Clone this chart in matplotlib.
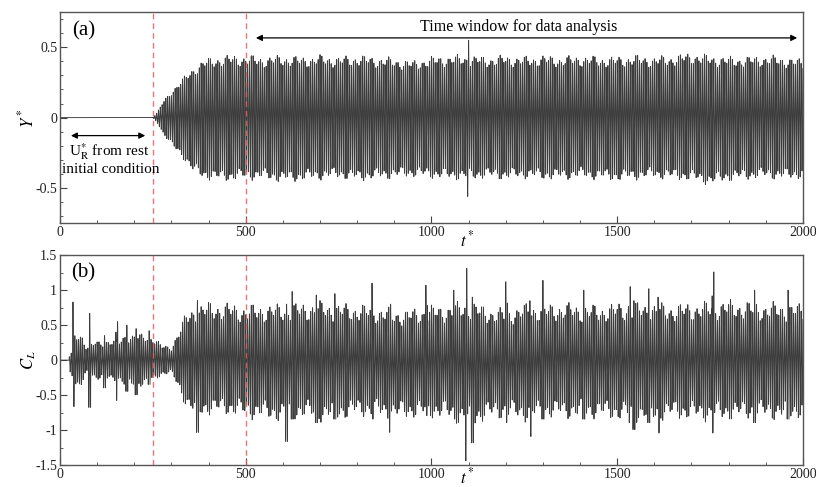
import numpy as np
import matplotlib
matplotlib.use('Agg')
import matplotlib.pyplot as plt
from matplotlib.ticker import MultipleLocator

plt.rcParams['font.family'] = ['Liberation Serif', 'DejaVu Serif']
plt.rcParams['mathtext.fontset'] = 'stix'

# --- data ---
# Y* envelope (upper / lower peak values) at these times
y_t = [0, 250, 262, 278, 305, 332, 359, 386, 422, 450,
       500, 550, 600, 650, 700, 750, 800, 850, 900, 950,
       1000, 1050, 1100, 1150, 1200, 1250, 1300, 1350, 1400, 1450,
       1500, 1550, 1600, 1650, 1700, 1750, 1800, 1850, 1900, 1950, 2000]
y_up = [0, 0, 0.04, 0.12, 0.21, 0.29, 0.36, 0.42, 0.44, 0.45,
        0.45, 0.44, 0.45, 0.44, 0.45, 0.44, 0.45, 0.44, 0.43, 0.41,
        0.44, 0.45, 0.45, 0.44, 0.45, 0.44, 0.45, 0.44, 0.45, 0.44,
        0.44, 0.45, 0.44, 0.45, 0.47, 0.45, 0.44, 0.44, 0.45, 0.44, 0.42]
y_lo = [0, 0, -0.04, -0.12, -0.22, -0.30, -0.40, -0.445, -0.46, -0.46,
        -0.45, -0.45, -0.47, -0.46, -0.45, -0.44, -0.46, -0.45, -0.44, -0.43,
        -0.44, -0.45, -0.45, -0.44, -0.45, -0.44, -0.45, -0.45, -0.44, -0.45,
        -0.46, -0.45, -0.44, -0.45, -0.46, -0.49, -0.46, -0.45, -0.44, -0.45, -0.44]
y_spikes = [(1099, 0.55, -0.565)]

# C_L envelope
cl_t = [0, 28, 34, 40, 46, 60, 72, 86, 95, 110,
        130, 145, 160, 175, 200, 225, 250, 275, 300, 320,
        340, 370, 400, 450, 500, 550, 600, 650, 700, 750,
        800, 850, 900, 950, 1000, 1050, 1100, 1150, 1200, 1250,
        1300, 1350, 1400, 1450, 1500, 1550, 1600, 1650, 1700, 1750,
        1800, 1850, 1900, 1950, 2000]
cl_up = [0, 0, 0.3, 0.4, 0.4, 0.38, 0.2, 0.25, 0.28, 0.28,
         0.3, 0.3, 0.3, 0.38, 0.38, 0.38, 0.36, 0.22, 0.2, 0.45,
         0.7, 0.82, 0.85, 0.84, 0.8, 0.82, 0.82, 0.84, 0.86, 0.83,
         0.82, 0.8, 0.74, 0.75, 0.8, 0.82, 0.88, 0.78, 0.75, 0.82,
         0.82, 0.84, 0.82, 0.8, 0.84, 0.84, 0.84, 0.82, 0.84, 0.86,
         0.88, 0.86, 0.84, 0.84, 0.82]
cl_lo = [0, 0, -0.3, -0.42, -0.45, -0.4, -0.2, -0.25, -0.28, -0.3,
         -0.3, -0.3, -0.32, -0.4, -0.38, -0.38, -0.33, -0.22, -0.2, -0.45,
         -0.7, -0.85, -0.8, -0.8, -0.85, -0.88, -0.9, -0.85, -0.9, -0.88,
         -0.82, -0.84, -0.88, -0.85, -0.85, -0.88, -1.0, -0.88, -0.85, -0.9,
         -0.86, -0.85, -0.86, -0.85, -0.88, -0.9, -0.9, -0.86, -0.88, -0.9,
         -0.88, -0.86, -0.86, -0.88, -0.84]
# single large cycles: (time, peak, trough)
cl_spikes = [(27, 0.05, -0.17), (36, 0.83, -0.67), (80, 0.67, -0.68), (153, 0.55, -0.58),
             (120, 0.35, -0.4), (180, 0.5, -0.45), (205, 0.45, -0.5), (240, 0.42, -0.35),
             (370, 0.85, -1.04), (610, 0.8, -1.17), (625, 0.98, -0.85), (690, 0.93, -0.9),
             (740, 0.95, -0.85), (841, 1.1, -0.85), (889, 0.8, -1.04), (987, 1.07, -0.8),
             (1062, 1.0, -0.85), (1094, 1.31, -1.45), (1110, 0.9, -1.19), (1202, 1.12, -0.9),
             (1267, 0.85, -1.1), (1300, 1.14, -0.85), (1410, 1.0, -0.85), (1533, 1.05, -0.9),
             (1545, 0.85, -1.0), (1585, 1.02, -0.9), (1612, 0.9, -1.05), (1758, 1.26, -1.05),
             (1870, 1.0, -0.9), (1960, 1.0, -0.85)]

period = 5.0        # oscillation period in t*
t_start_cl = 27     # lift signal starts here
t = np.arange(0, 2000.01, 0.2)


def build(tk, up, lo, spikes, depth):
    hi = np.interp(t, tk, up)
    lw = np.interp(t, tk, lo)
    # cycle-to-cycle variation of the peaks
    m = 1 - depth * (0.5 + 0.3 * np.cos(2 * np.pi * t / 23.0) + 0.2 * np.cos(2 * np.pi * t / 61.0))
    hi = hi * m
    lw = lw * m
    for ts, a, b in spikes:
        w = np.abs(t - ts) < period / 2
        hi[w] = a
        lw[w] = b
    c = np.cos(2 * np.pi * t / period)
    return np.where(c > 0, c * hi, -c * lw)


y_sig = build(y_t, y_up, y_lo, y_spikes, 0.2)
cl_sig = build(cl_t, cl_up, cl_lo, cl_spikes, 0.35)
cl_sig[t < t_start_cl - 2] = 0

fig = plt.figure(figsize=(8.16, 4.87), dpi=100)
ax1 = fig.add_axes([0.0735, 0.542, 0.9105, 0.433])
ax2 = fig.add_axes([0.0735, 0.045, 0.9105, 0.431])

ax1.plot(t, y_sig, color='#3c3c3c', lw=0.65)
ax2.plot(t, cl_sig, color='#3c3c3c', lw=0.65)

for ax in (ax1, ax2):
    ax.axvline(250, color='#e06060', ls=(0, (4, 3)), lw=1.0, alpha=0.85, zorder=3)
    ax.axvline(500, color='#e06060', ls=(0, (4, 3)), lw=1.0, alpha=0.85, zorder=3)
    ax.set_xlim(0, 2000)
    ax.set_xticks([0, 500, 1000, 1500, 2000])
    ax.set_xticklabels(['0', '500', '1000', '1500', '2000'])
    ax.xaxis.set_minor_locator(MultipleLocator(100))
    ax.tick_params(which='both', direction='in', colors='#444444', labelsize=10,
                   labelcolor='#222222', top=False, right=False)
    ax.tick_params(which='major', length=5, pad=2)
    ax.tick_params(which='minor', length=2.5)
    for s in ax.spines.values():
        s.set_color('#555555')
        s.set_linewidth(1.0)

ax1.set_ylim(-0.75, 0.75)
ax1.set_yticks([-0.5, 0, 0.5])
ax1.set_yticklabels(['-0.5', '0', '0.5'])
ax1.yaxis.set_minor_locator(MultipleLocator(0.1))

ax2.set_ylim(-1.5, 1.5)
ax2.set_yticks([-1.5, -1, -0.5, 0, 0.5, 1, 1.5])
ax2.set_yticklabels(['-1.5', '-1', '-0.5', '0', '0.5', '1', '1.5'])
ax2.yaxis.set_minor_locator(MultipleLocator(0.25))

ax1.set_ylabel(r'$Y^*$', fontsize=12)
ax1.yaxis.set_label_coords(-0.03, 0.5)
ax2.set_ylabel(r'$C_L$', fontsize=12)
ax2.yaxis.set_label_coords(-0.03, 0.5)
ax1.text(0.548, -0.08, r'$t^*$', transform=ax1.transAxes, ha='center', va='center', fontsize=12)
ax2.text(0.548, -0.057, r'$t^*$', transform=ax2.transAxes, ha='center', va='center', fontsize=12)

ax1.text(65, 0.62, '(a)', fontsize=15, ha='center', va='center')
ax2.text(62, 1.25, '(b)', fontsize=15, ha='center', va='center')

ax1.annotate('', xy=(520, 0.567), xytext=(1992, 0.567),
             arrowprops=dict(arrowstyle='<|-|>', color='black', lw=0.9, mutation_scale=9))
ax1.text(1234, 0.645, 'Time window for data analysis', fontsize=11.5, ha='center', va='center')

ax1.annotate('', xy=(22, -0.128), xytext=(237, -0.128),
             arrowprops=dict(arrowstyle='<|-|>', color='black', lw=0.9, mutation_scale=9))
ax1.text(132, -0.24, r'U$_{\mathrm{R}}^{*}$ from rest', fontsize=11, ha='center', va='center')
ax1.text(138, -0.37, 'initial condition', fontsize=11, ha='center', va='center')

fig.savefig('out.png', dpi=100)
